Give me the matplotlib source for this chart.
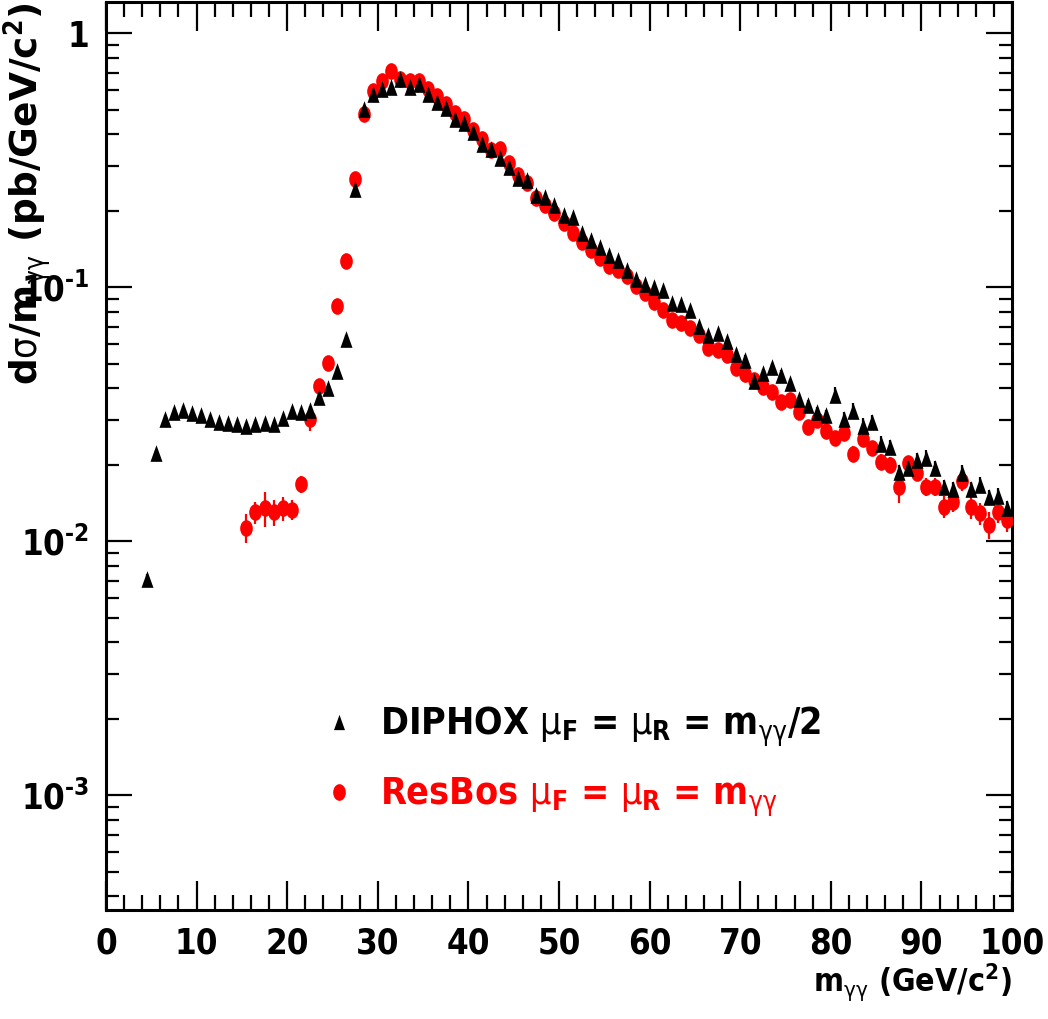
import numpy as np
import matplotlib

matplotlib.use('Agg')
from matplotlib import pyplot as plt
from matplotlib import font_manager
from matplotlib.path import Path
from matplotlib.lines import Line2D
from matplotlib.ticker import LogLocator, MultipleLocator, NullFormatter

# DIPHOX (mu_F = mu_R = m/2), 1 GeV bins from 4.5 to 99.5
diphox_x = np.arange(4.5, 100, 1.0)
diphox_y = [
    0.00711, 0.0223, 0.0304, 0.0324, 0.0330, 0.0321, 0.0315, 0.0304, 0.0296, 0.0293,
    0.0290, 0.0285, 0.0290, 0.0293, 0.0290, 0.0306, 0.0327, 0.0324, 0.0330, 0.0371,
    0.0402, 0.0470, 0.0628, 0.243, 0.502, 0.575, 0.605, 0.616, 0.659, 0.613,
    0.630, 0.575, 0.536, 0.510, 0.461, 0.442, 0.408, 0.368, 0.349, 0.324,
    0.298, 0.270, 0.264, 0.2305, 0.227, 0.210, 0.1934, 0.1894, 0.1638, 0.1532,
    0.1443, 0.1345, 0.1278, 0.1167, 0.1079, 0.1034, 0.1004, 0.0973, 0.0871, 0.0862,
    0.0817, 0.0706, 0.0651, 0.0661, 0.0612, 0.0548, 0.0519, 0.0426, 0.0460, 0.0484,
    0.0453, 0.0420, 0.0363, 0.0345, 0.0324, 0.0315, 0.0378, 0.0303, 0.0327, 0.0285,
    0.0294, 0.0242, 0.0235, 0.0187, 0.0194, 0.0209, 0.0213, 0.0194, 0.0163, 0.0160,
    0.0186, 0.0160, 0.0167, 0.0149, 0.0151, 0.0135,
]
diphox_rel_err = [
    0.05, 0.03, 0.03, 0.03, 0.03, 0.03, 0.03, 0.03, 0.03, 0.03,
    0.03, 0.03, 0.03, 0.03, 0.03, 0.03, 0.03, 0.03, 0.03, 0.03,
    0.03, 0.03, 0.03, 0.02, 0.02, 0.02, 0.02, 0.02, 0.02, 0.02,
    0.02, 0.02, 0.02, 0.02, 0.02, 0.02, 0.02, 0.02, 0.02, 0.02,
    0.02, 0.02, 0.02, 0.02, 0.02, 0.02, 0.02, 0.02, 0.02, 0.02,
    0.02, 0.02, 0.02, 0.02, 0.02, 0.02, 0.02, 0.02, 0.02, 0.02,
    0.02, 0.02, 0.02, 0.02, 0.02, 0.02, 0.04, 0.04, 0.04, 0.04,
    0.04, 0.04, 0.04, 0.04, 0.04, 0.04, 0.07, 0.07, 0.07, 0.07,
    0.07, 0.07, 0.07, 0.07, 0.07, 0.07, 0.07, 0.07, 0.07, 0.07,
    0.07, 0.07, 0.07, 0.07, 0.07, 0.07,
]

# ResBos (mu_F = mu_R = m), 1 GeV bins from 15.5 to 99.5
resbos_x = np.arange(15.5, 100, 1.0)
resbos_y = [
    0.01132, 0.0130, 0.0135, 0.0130, 0.0135, 0.0133, 0.0168, 0.0303, 0.0410, 0.0504,
    0.0847, 0.1266, 0.268, 0.479, 0.592, 0.649, 0.710, 0.663, 0.649, 0.649,
    0.602, 0.566, 0.525, 0.487, 0.458, 0.418, 0.382, 0.346, 0.349, 0.309,
    0.2756, 0.258, 0.225, 0.210, 0.1965, 0.1794, 0.1638, 0.1504, 0.1408, 0.1306,
    0.1218, 0.1174, 0.1105, 0.1009, 0.0951, 0.0878, 0.0817, 0.0746, 0.0724, 0.0692,
    0.0651, 0.0577, 0.0568, 0.0543, 0.0481, 0.0457, 0.0433, 0.0405, 0.0386, 0.0355,
    0.0361, 0.0324, 0.0283, 0.0301, 0.0271, 0.0255, 0.0267, 0.0221, 0.0253, 0.0233,
    0.0206, 0.0200, 0.0164, 0.0203, 0.0186, 0.0164, 0.0164, 0.0137, 0.0143, 0.0172,
    0.0136, 0.0129, 0.0116, 0.0131, 0.0121,
]
resbos_rel_err = [
    0.13, 0.10, 0.16, 0.12, 0.11, 0.09, 0.08, 0.10, 0.04, 0.03,
    0.02, 0.02, 0.02, 0.02, 0.02, 0.02, 0.02, 0.02, 0.02, 0.02,
    0.02, 0.02, 0.02, 0.02, 0.02, 0.02, 0.02, 0.02, 0.02, 0.02,
    0.02, 0.02, 0.02, 0.02, 0.02, 0.02, 0.02, 0.02, 0.02, 0.02,
    0.02, 0.02, 0.02, 0.02, 0.02, 0.03, 0.03, 0.03, 0.03, 0.03,
    0.03, 0.03, 0.03, 0.03, 0.03, 0.05, 0.05, 0.05, 0.05, 0.05,
    0.05, 0.05, 0.05, 0.05, 0.05, 0.06, 0.06, 0.07, 0.06, 0.06,
    0.07, 0.07, 0.14, 0.07, 0.07, 0.08, 0.08, 0.10, 0.09, 0.08,
    0.10, 0.10, 0.12, 0.10, 0.10,
]

xtick_vals = [0, 10, 20, 30, 40, 50, 60, 70, 80, 90, 100]
xtick_labels = ['0', '10', '20', '30', '40', '50', '60', '70', '80', '90', '100']
ytick_vals = [1e-3, 1e-2, 1e-1, 1]
ytick_labels = [r'$\mathrm{10^{\text{-}3}}$', r'$\mathrm{10^{\text{-}2}}$',
                r'$\mathrm{10^{\text{-}1}}$', '1']

legend_labels = [
    r'DIPHOX $\mu_{\mathrm{F}}$ = $\mu_{\mathrm{R}}$ = m$_{\gamma\gamma}$/2',
    r'ResBos $\mu_{\mathrm{F}}$ = $\mu_{\mathrm{R}}$ = m$_{\gamma\gamma}$',
]

# ROOT's narrow bold Helvetica: take the most condensed sans we have
ttf = font_manager.fontManager.ttflist
installed = {f.name for f in ttf}
if 'Liberation Sans Narrow' in installed:
    narrow_family, narrow_stretch = 'Liberation Sans Narrow', 'normal'
elif any(f.name == 'DejaVu Sans' and f.stretch == 'condensed' for f in ttf):
    narrow_family, narrow_stretch = 'DejaVu Sans', 'condensed'
else:
    narrow_family, narrow_stretch = 'Liberation Sans', 'normal'
nfont = dict(fontfamily=narrow_family, fontstretch=narrow_stretch, fontweight='bold')

pat = narrow_family + ':stretch=' + narrow_stretch
plt.rcParams['mathtext.fontset'] = 'custom'
plt.rcParams['mathtext.rm'] = pat + ':bold'
plt.rcParams['mathtext.bf'] = pat + ':bold'
plt.rcParams['mathtext.sf'] = pat + ':bold'
plt.rcParams['mathtext.it'] = pat

# ROOT markers look squeezed horizontally: narrow triangle / tall ellipse
tri_path = Path([(0, 0.5), (-0.36, -0.5), (0.36, -0.5), (0, 0.5)],
                [Path.MOVETO, Path.LINETO, Path.LINETO, Path.CLOSEPOLY])
circ = Path.unit_circle()
ell_path = Path(circ.vertices * np.array([0.76, 1.0]), circ.codes)

fig = plt.figure(figsize=(10.48, 10.19), dpi=100)
ax = fig.add_axes([106 / 1048, 1 - 910 / 1019, 906 / 1048, 908 / 1019])

ry = np.array(resbos_y)
dy = np.array(diphox_y)
ax.errorbar(resbos_x, ry, yerr=ry * np.array(resbos_rel_err), fmt='none',
            ecolor='red', elinewidth=1.6, capsize=0, zorder=2)
ax.plot(resbos_x, ry, linestyle='none', marker=ell_path, markersize=12,
        color='red', markeredgewidth=0, zorder=3)
ax.errorbar(diphox_x, dy, yerr=dy * np.array(diphox_rel_err), fmt='none',
            ecolor='black', elinewidth=1.6, capsize=0, zorder=4)
ax.plot(diphox_x, dy, linestyle='none', marker=tri_path, markersize=12,
        color='black', markeredgewidth=0, zorder=5)

ax.set_yscale('log')
ax.set_xlim(0, 100)
ax.set_ylim(3.535e-4, 1.328)

ax.set_xticks(xtick_vals, labels=xtick_labels, fontsize=25, **nfont)
ax.xaxis.set_minor_locator(MultipleLocator(2))
ax.set_yticks(ytick_vals, labels=ytick_labels, fontsize=25, **nfont)
ax.yaxis.set_minor_locator(LogLocator(base=10, subs=np.arange(2, 10)))
ax.yaxis.set_minor_formatter(NullFormatter())

ax.tick_params(which='both', direction='in', top=True, right=True,
               width=1.6, color='black')
ax.tick_params(axis='x', which='major', length=21, pad=12)
ax.tick_params(axis='x', which='minor', length=11)
ax.tick_params(axis='y', which='major', length=19, pad=12)
ax.tick_params(axis='y', which='minor', length=9.5)
for sp in ax.spines.values():
    sp.set_linewidth(2.2)

ax.set_xlabel(r'm$_{\gamma\gamma}$ (GeV/c$^{2}$)', fontsize=23, loc='right',
              va='center', **nfont)
ax.xaxis.set_label_coords(1.0, -0.08)
ax.set_ylabel(r'd$\sigma$/m$_{\gamma\gamma}$ (pb/GeV/c$^{2}$)', fontfamily='DejaVu Sans',
              fontweight='bold', fontsize=27, loc='top', va='center')
ax.yaxis.set_label_coords(-0.087, 1.0)

handles = [
    Line2D([], [], linestyle='none', marker=tri_path, markersize=11,
           color='black', markeredgewidth=0),
    Line2D([], [], linestyle='none', marker=ell_path, markersize=12,
           color='red', markeredgewidth=0),
]
leg = ax.legend(handles, legend_labels, loc='center left',
                bbox_to_anchor=(0.232, 0.163), frameon=False,
                prop={'family': narrow_family, 'stretch': narrow_stretch,
                      'weight': 'bold', 'size': 27},
                handlelength=1.2, handletextpad=0.5, labelspacing=0.7,
                borderpad=0, borderaxespad=0)
for txt, col in zip(leg.get_texts(), ['black', 'red']):
    txt.set_color(col)

fig.savefig('out.png', dpi=100)
plt.close(fig)
